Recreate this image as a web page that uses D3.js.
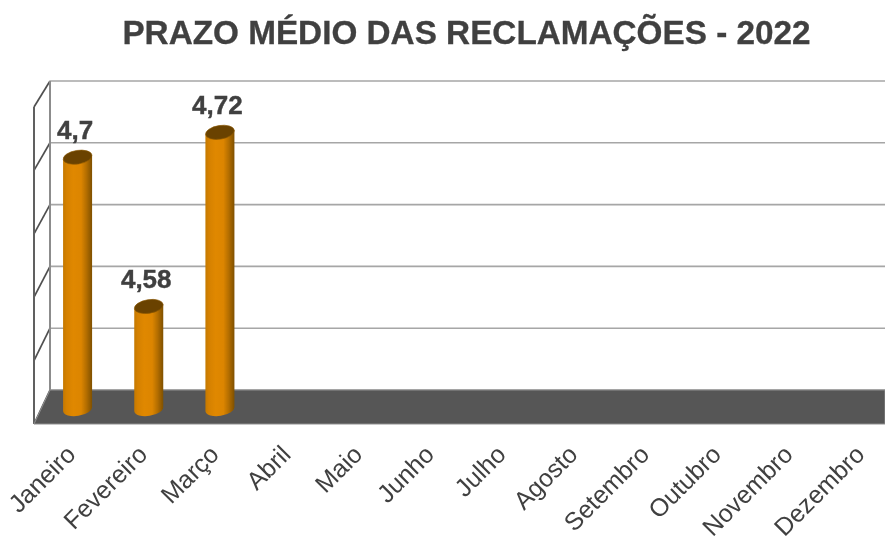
<!DOCTYPE html>
<html><head><meta charset="utf-8">
<script src="https://cdn.jsdelivr.net/npm/d3@7/dist/d3.min.js"></script>
<style>html,body{margin:0;padding:0;background:#fff}svg{display:block}text{font-family:"Liberation Sans",Arial,sans-serif}</style>
</head><body><div id="c"></div>
<script>
const titleText = "PRAZO MÉDIO DAS RECLAMAÇÕES - 2022";
const months = ["Janeiro","Fevereiro","Março","Abril","Maio","Junho","Julho","Agosto","Setembro","Outubro","Novembro","Dezembro"];
const values = [4.7,4.58,4.72];
const valueLabels = ["4,7","4,58","4,72"];
const ticks = [4.5,4.55,4.6,4.65,4.7,4.75];

const W=885,H=540;
const svg=d3.select("#c").append("svg").attr("width",W).attr("height",H);
const defs=svg.append("defs");
const g=defs.append("linearGradient").attr("id","cyl").attr("x1",0).attr("x2",1).attr("y1",0).attr("y2",0);
[[0,"#c47800"],[0.12,"#d58100"],[0.35,"#e08800"],[0.62,"#dc8500"],[0.8,"#b46e00"],[1,"#7f5000"]].forEach(([o,c])=>g.append("stop").attr("offset",o).attr("stop-color",c));
defs.append("filter").attr("id","soft").append("feGaussianBlur").attr("stdDeviation",0.4);

const backX=50, frontX=34, right=885;
const yBack=d3.scaleLinear().domain([4.5,4.75]).range([390,81]);
const yFront=d3.scaleLinear().domain([4.5,4.75]).range([424,107]);
const yBar=d3.scaleLinear().domain([4.5,4.75]).range([406,95]);
const x=d3.scaleBand().domain(months).range([42,896]).paddingInner(0).paddingOuter(0);
const xLabel=d3.scalePoint().domain(months).range([77,866]);

const root=svg.append("g").attr("filter","url(#soft)");
root.append("text").attr("x",466.5).attr("y",44).attr("text-anchor","middle").attr("font-size",33.3).attr("font-weight","bold").attr("fill","#404040").attr("stroke","#404040").attr("stroke-width",0.3).text(titleText);

root.append("g").selectAll("line").data(ticks).join("line")
 .attr("x1",backX).attr("x2",right).attr("y1",d=>yBack(d)).attr("y2",d=>yBack(d))
 .attr("stroke","#a6a6a6").attr("stroke-width",1.6);
root.append("g").selectAll("line").data(ticks).join("line")
 .attr("x1",frontX).attr("x2",backX).attr("y1",d=>yFront(d)).attr("y2",d=>yBack(d))
 .attr("stroke","#505050").attr("stroke-width",1.7);
root.append("line").attr("x1",backX).attr("x2",backX).attr("y1",yBack(4.75)).attr("y2",yBack(4.5)).attr("stroke","#8c8c8c").attr("stroke-width",2);
root.append("line").attr("x1",frontX).attr("x2",frontX).attr("y1",yFront(4.75)).attr("y2",yFront(4.5)).attr("stroke","#606060").attr("stroke-width",2);
root.append("path").attr("d",d3.line()([[backX,yBack(4.5)],[right,yBack(4.5)],[right,yFront(4.5)],[frontX,yFront(4.5)]])+"Z")
 .attr("fill","#575757").attr("stroke","#8f8f8f").attr("stroke-width",1);

const rx=14.5, ry=6.8, tilt=-9, baseDrop=3;
const bars=root.append("g").selectAll("g").data(values).join("g");
bars.append("path").attr("fill","url(#cyl)").attr("d",(d,i)=>{
  const cx=x(months[i])+x.bandwidth()/2, top=yBar(d), bot=yBar(4.5)+baseDrop;
  const dy=2.2;
  return `M${cx-rx},${top+dy}L${cx+rx},${top-dy}L${cx+rx},${bot-dy}A${rx},${ry} ${tilt} 0 1 ${cx-rx},${bot+dy}Z`;
});
bars.append("ellipse").attr("fill","#6a4300").attr("stroke","#8a5700").attr("stroke-width",0.6)
 .attr("cx",(d,i)=>x(months[i])+x.bandwidth()/2).attr("cy",d=>yBar(d))
 .attr("rx",rx).attr("ry",ry)
 .attr("transform",(d,i)=>`rotate(${tilt} ${x(months[i])+x.bandwidth()/2} ${yBar(d)})`);
bars.append("text").attr("text-anchor","middle").attr("font-size",26).attr("font-weight","bold").attr("fill","#404040").attr("stroke","#404040").attr("stroke-width",0.4)
 .attr("x",(d,i)=>x(months[i])+x.bandwidth()/2-2.5).attr("y",d=>yBar(d)-18)
 .text((d,i)=>valueLabels[i]);

root.append("g").selectAll("text").data(months).join("text")
 .attr("text-anchor","end").attr("font-size",25).attr("fill","#404040")
 .attr("transform",d=>`translate(${xLabel(d)},${456}) rotate(-45)`)
 .text(d=>d);
</script></body></html>
